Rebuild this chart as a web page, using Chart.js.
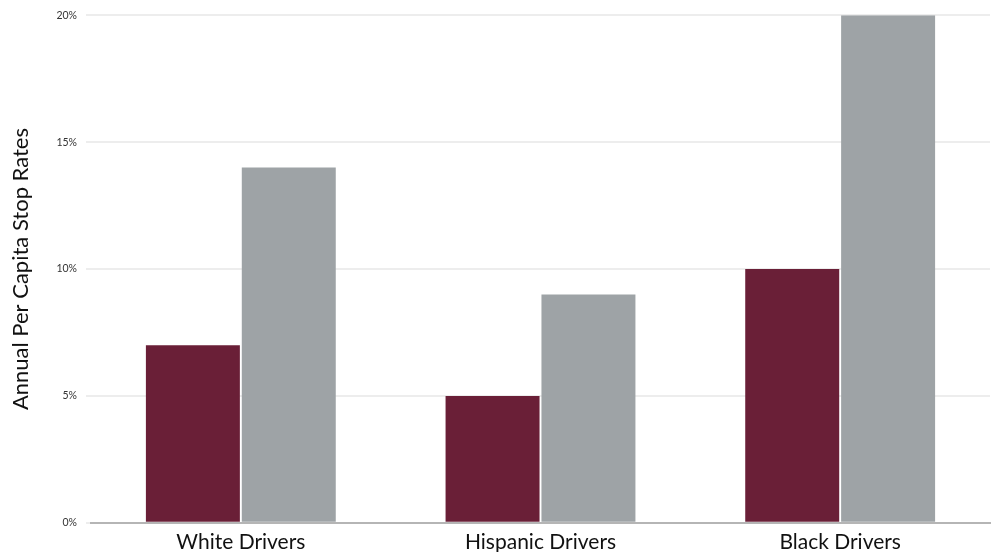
<!DOCTYPE html>
<html>
<head>
<meta charset="utf-8">
<script src="https://cdn.jsdelivr.net/npm/chart.js@4/dist/chart.umd.min.js"></script>
<style>
  html, body { margin: 0; padding: 0; background: #fff; overflow: hidden; }
  #wrap { width: 1003px; height: 552px; position: relative; overflow: hidden; }
  #main-chart { position: absolute; left: 0; top: 0; }
</style>
</head>
<body>
<div id="wrap"><canvas id="main-chart" width="1003" height="562"></canvas></div>
<script>
const categories = ['White Drivers', 'Hispanic Drivers', 'Black Drivers']
const seriesA = [7, 5, 10]
const seriesB = [14, 9, 20]
const yTicks = [0, 5, 10, 15, 20]

const data = {
    labels: categories,
    datasets: [{
        label: 'Series A',
        backgroundColor: '#6a1f37',
        data: seriesA
    }, {
        label: 'Series B',
        backgroundColor: '#9ea3a6',
        data: seriesB
    }]
}

const config = {
    type: 'bar',
    data: data,
    options: {
        responsive: false,
        animation: false,
        layout: { padding: { left: 8, right: 13, top: 15, bottom: 0 } },
        plugins: { legend: { display: false }, tooltip: { enabled: false } },
        datasets: { bar: { categoryPercentage: 0.64, barPercentage: 0.98 } },
        scales: {
            x: {
                grid: { display: false, drawTicks: false },
                border: { color: '#b5b5b5', width: 2 },
                ticks: { color: '#111', font: { family: 'Lato', size: 21 }, padding: 7 }
            },
            y: {
                min: 0, max: 20,
                afterBuildTicks: axis => { axis.ticks = yTicks.map(v => ({ value: v })) },
                grid: { color: '#ededed', lineWidth: 2, drawTicks: true, tickLength: 5, tickColor: '#ededed' },
                border: { display: false },
                ticks: {
                    color: '#333', font: { family: 'Lato', size: 10.5 }, padding: 9,
                    callback: v => v + '%'
                },
                title: {
                    display: true, text: 'Annual Per Capita Stop Rates',
                    color: '#111', font: { family: 'Lato', size: 22 }, padding: { top: 0, bottom: 13 }
                }
            }
        }
    }
}

const myChart = new Chart(document.getElementById('main-chart'), config)
</script>
</body>
</html>
